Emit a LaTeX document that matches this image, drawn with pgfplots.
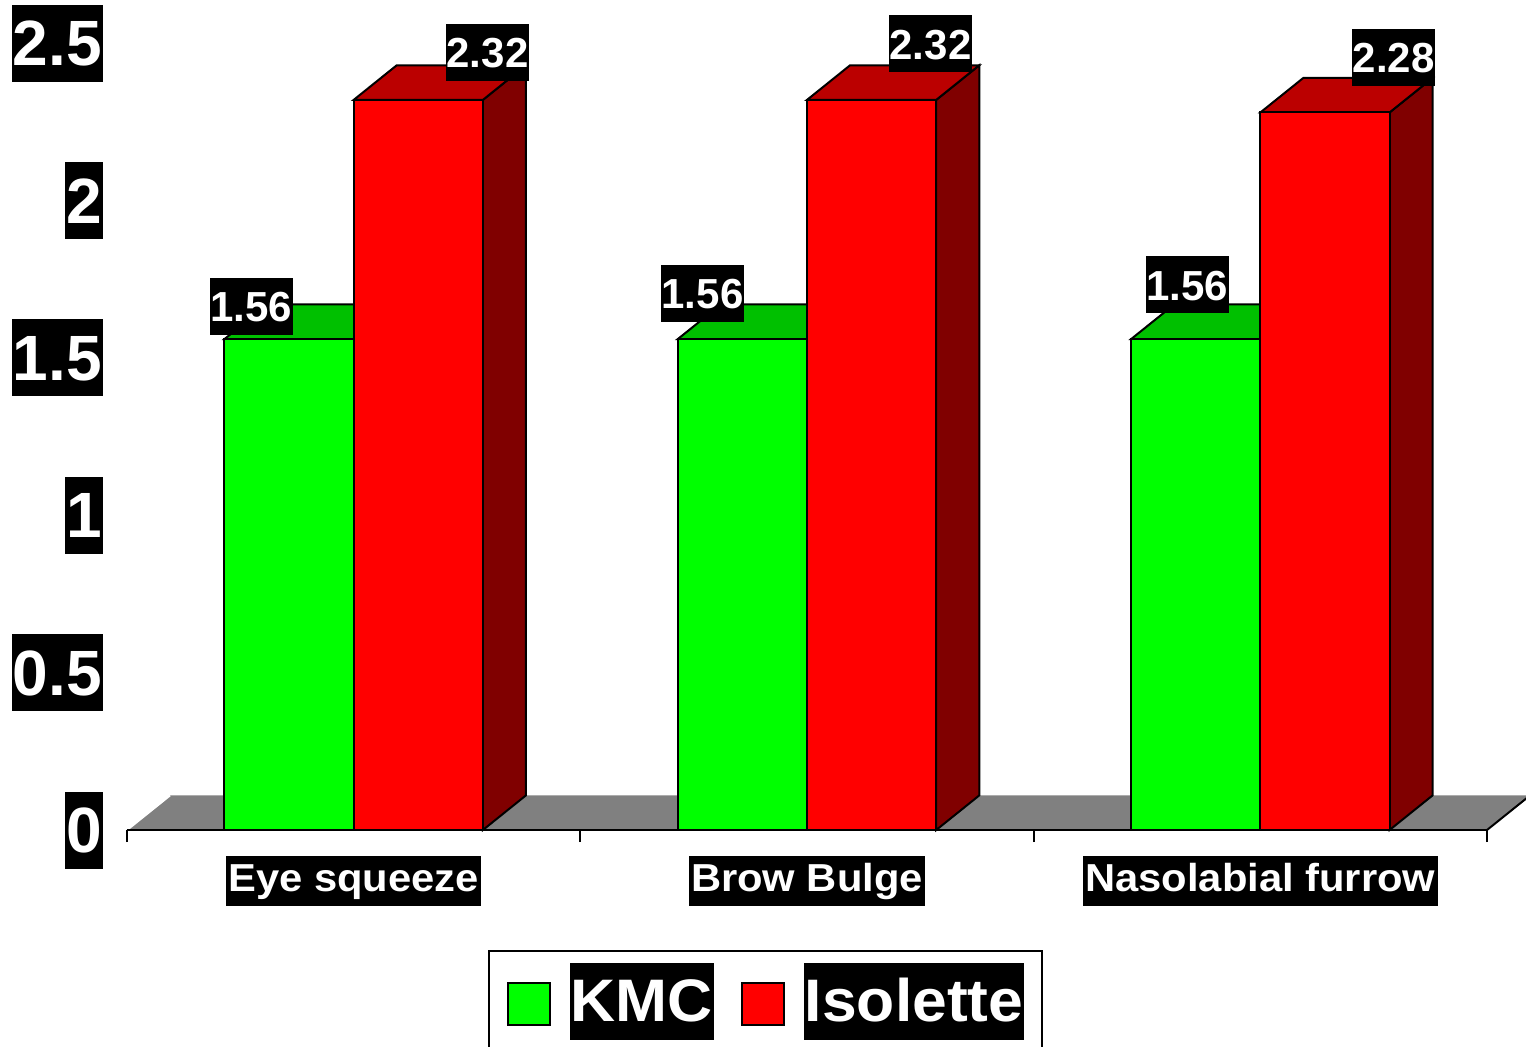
\documentclass[border=0pt]{standalone}
\usepackage{pgfplots}
\pgfplotsset{compat=1.18}
\usepackage{fontspec}
\setmainfont{Liberation Sans}
\newfontfamily\ytfont{Liberation Sans}
\newfontfamily\catfont{Liberation Sans}[FakeStretch=1.07]
\newfontfamily\lgfont{Liberation Sans}[FakeStretch=1.04]
\definecolor{gfront}{HTML}{00FF00}
\definecolor{gtop}{HTML}{00C000}
\definecolor{rfront}{HTML}{FF0000}
\definecolor{rtop}{HTML}{BB0000}
\definecolor{rside}{HTML}{800000}
\definecolor{floorgray}{HTML}{808080}
\newcommand{\lgbox}[1]{{\setlength{\fboxsep}{0pt}\colorbox{black}{\hspace{0.5pt}\rule[-9pt]{0pt}{38.5pt}\textcolor{white}{\lgfont\bfseries\fontsize{30}{34}\selectfont #1}\hspace{0.5pt}}}}
\tikzset{dlab/.style={font=\ytfont\bfseries\fontsize{21}{24}\selectfont, fill=black, text=white,
     inner xsep=0.3pt, inner ysep=0pt, text height=22pt, text depth=6.5pt, anchor=center}}
\begin{document}
\begin{tikzpicture}
\begin{axis}[
  at={(0,0)}, anchor=south west,
  scale only axis, width=680pt, height=393.375pt,
  xmin=-0.5, xmax=2.5, ymin=0, ymax=2.5,
  clip=false, axis on top,
  axis lines=left,
  axis line style={-},
  x axis line style={line width=1pt},
  y axis line style={draw=none},
  xtick={-0.5,0.5,1.5,2.5},
  x tick label as interval,
  xticklabels={Eye squeeze, Brow Bulge, Nasolabial furrow},
  xtick style={black, line width=1pt},
  major tick length=6pt, tick align=outside,
  ytick={0,0.5,1,1.5,2,2.5},
  yticklabels={0,0.5,1,1.5,2,2.5},
  ytick style={draw=none},
  xticklabel style={font=\catfont\bfseries\fontsize{19.5}{22}\selectfont, fill=black, text=white,
     inner xsep=1.2pt, inner ysep=0pt, text height=17.5pt, text depth=7.5pt, anchor=north, yshift=-7pt},
  yticklabel style={font=\ytfont\bfseries\fontsize{32}{36}\selectfont, fill=black, text=white,
     inner xsep=0.5pt, inner ysep=0pt, text height=30.5pt, text depth=8pt, anchor=east, xshift=-6pt},
  legend columns=-1,
  legend style={at={(0.4695,-0.1525)}, anchor=north, draw=black, line width=1pt,
     inner xsep=9pt, inner ysep=6pt, nodes={inner sep=0pt},
     /tikz/every odd column/.append style={column sep=9.5pt},
     /tikz/every even column/.append style={column sep=13.5pt}},
]
% floor
\addplot[fill=floorgray, draw=none, forget plot] coordinates {(-0.5,0) (2.5,0) (2.595,0.11) (-0.405,0.11)} -- cycle;
\addplot[black, line width=1pt, forget plot] coordinates {(2.5,0) (2.595,0.11)};
\addplot[white, line width=1pt, forget plot] coordinates {(-0.5,0) (-0.405,0.11)};
% green top faces
\addplot[fill=gtop, draw=black, line width=1pt, forget plot] coordinates {(-0.285,1.56) (0,1.56) (0.095,1.67) (-0.19,1.67)} -- cycle;
\addplot[fill=gtop, draw=black, line width=1pt, forget plot] coordinates {(0.715,1.56) (1,1.56) (1.095,1.67) (0.81,1.67)} -- cycle;
\addplot[fill=gtop, draw=black, line width=1pt, forget plot] coordinates {(1.715,1.56) (2,1.56) (2.095,1.67) (1.81,1.67)} -- cycle;
% green front faces
\addplot[ybar, bar width=0.285, bar shift=-0.1425, fill=gfront, draw=black, line width=1pt,
  legend image code/.code={\draw[fill=gfront, draw=black, line width=1pt] (0pt,-15.5pt) rectangle (21pt,5.5pt); \path (0pt,-26pt);}]
  coordinates {(0,1.56) (1,1.56) (2,1.56)};
\addlegendentry{\lgbox{KMC}}
% red side faces
\addplot[fill=rside, draw=black, line width=1pt, forget plot] coordinates {(0.285,0) (0.38,0.11) (0.38,2.43) (0.285,2.32)} -- cycle;
\addplot[fill=rside, draw=black, line width=1pt, forget plot] coordinates {(1.285,0) (1.38,0.11) (1.38,2.43) (1.285,2.32)} -- cycle;
\addplot[fill=rside, draw=black, line width=1pt, forget plot] coordinates {(2.285,0) (2.38,0.11) (2.38,2.39) (2.285,2.28)} -- cycle;
% red top faces
\addplot[fill=rtop, draw=black, line width=1pt, forget plot] coordinates {(0,2.32) (0.285,2.32) (0.38,2.43) (0.095,2.43)} -- cycle;
\addplot[fill=rtop, draw=black, line width=1pt, forget plot] coordinates {(1,2.32) (1.285,2.32) (1.38,2.43) (1.095,2.43)} -- cycle;
\addplot[fill=rtop, draw=black, line width=1pt, forget plot] coordinates {(2,2.28) (2.285,2.28) (2.38,2.39) (2.095,2.39)} -- cycle;
% red front faces
\addplot[ybar, bar width=0.285, bar shift=0.1425, fill=rfront, draw=black, line width=1pt,
  legend image code/.code={\draw[fill=rfront, draw=black, line width=1pt] (0pt,-15.5pt) rectangle (21pt,5.5pt); \path (0pt,-26pt);}]
  coordinates {(0,2.32) (1,2.32) (2,2.28)};
\addlegendentry{\lgbox{Isolette}}
% data labels
\node[dlab] at (axis cs:-0.2254,1.665) {1.56};
\node[dlab] at (axis cs:0.2952,2.472) {2.32};
\node[dlab] at (axis cs:0.7695,1.706) {1.56};
\node[dlab] at (axis cs:1.2724,2.498) {2.32};
\node[dlab] at (axis cs:1.8393,1.732) {1.56};
\node[dlab] at (axis cs:2.2938,2.456) {2.28};
\end{axis}
\pgfresetboundingbox
\useasboundingbox (-63.5pt,-108pt) rectangle (699.5pt,415pt);
\end{tikzpicture}
\end{document}
